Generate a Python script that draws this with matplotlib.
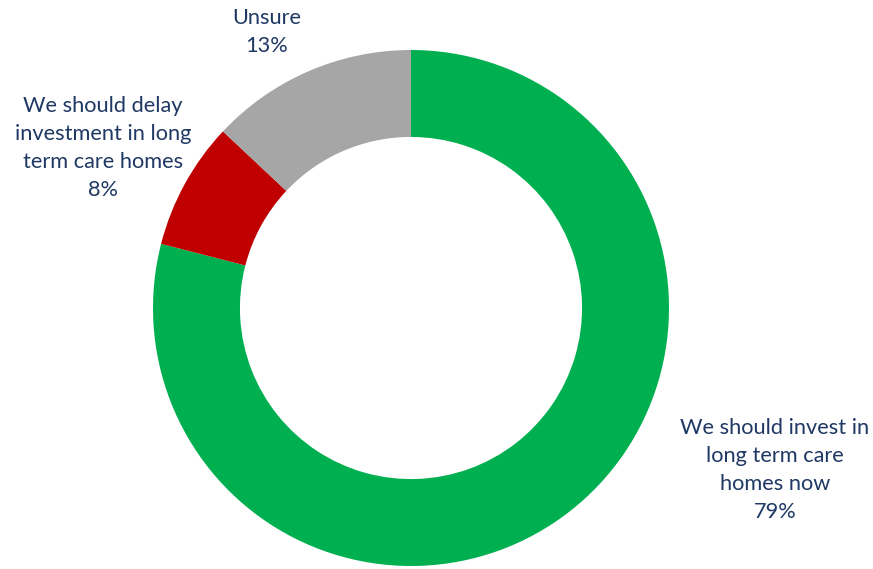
import matplotlib.pyplot as plt

# survey responses (share of respondents)
labels = ['We should invest in\nlong term care\nhomes now',
          'We should delay\ninvestment in long\nterm care homes',
          'Unsure']
shares = [79, 8, 13]
colors = ['#00B050', '#C00000', '#A6A6A6']

W, H = 873, 569
fig = plt.figure(figsize=(W / 100, H / 100), dpi=100)
plt.rcParams['font.family'] = ['Lato', 'DejaVu Sans']

# donut centred at (411, 308) px, outer radius 258 px
cx, cy, r = 411, 308, 258
ax = fig.add_axes([(cx - r) / W, (H - cy - r) / H, 2 * r / W, 2 * r / H])
ax.pie(shares, colors=colors, startangle=90, counterclock=False,
       radius=1, wedgeprops=dict(width=0.337, linewidth=0))
ax.set_aspect('equal')
ax.set_xlim(-1, 1)
ax.set_ylim(-1, 1)
ax.axis('off')

# label anchor points in pixels (x, y from top)
label_pos = [(775, 470), (103, 148), (267, 32)]
for lab, val, (px, py) in zip(labels, shares, label_pos):
    fig.text(px / W, 1 - py / H, f'{lab}\n{val}%', ha='center', va='center',
             fontsize=15.7, color='#1F3864', linespacing=1.5)

fig.savefig('out.png', dpi=100)
